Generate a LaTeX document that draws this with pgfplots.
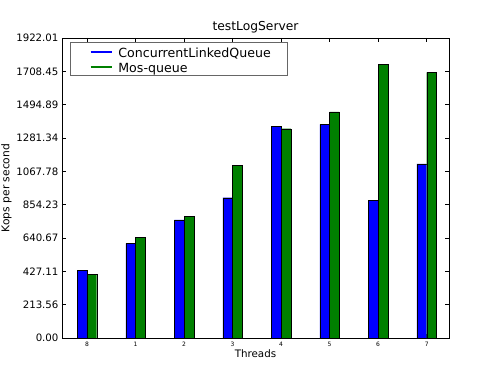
\documentclass[border=0pt]{standalone}
\usepackage{pgfplots}
\pgfplotsset{compat=1.18}
\usepackage{pgfplotstable}
\usepackage{fontspec}
\setmainfont{DejaVu Sans}
\pgfplotstableread{
x clq mos
0 434 408
1 607 645
2 756 780
3 899 1108
4 1356 1341
5 1369 1448
6 880 1752
7 1115 1701
}\datatable
\definecolor{mplblue}{RGB}{0,0,255}
\definecolor{mplgreen}{RGB}{0,128,0}
\begin{document}
\begin{tikzpicture}[x=1pt,y=1pt]
\path[use as bounding box] (0,0) rectangle (500,375);
\begin{axis}[
  at={(62pt,37pt)}, anchor=south west,
  scale only axis, width=387pt, height=300pt,
  xmin=-0.315, xmax=7.66, ymin=0, ymax=1922.01,
  axis line style={line width=0.9pt},
  tick align=inside, major tick length=4pt,
  tick style={black, line width=0.6pt},
  xtick={0.2,1.2,2.2,3.2,4.2,5.2,6.2,7.2},
  xticklabels={8,1,2,3,4,5,6,7},
  ytick={0,213.56,427.11,640.67,854.23,1067.78,1281.34,1494.89,1708.45,1922.01},
  yticklabels={0.00,213.56,427.11,640.67,854.23,1067.78,1281.34,1494.89,1708.45,1922.01},
  x tick label style={font=\fontsize{6}{7}\selectfont, yshift=-1pt},
  y tick label style={font=\fontsize{10.2}{12}\selectfont},
  title={testLogServer},
  title style={font=\fontsize{12.3}{14}\selectfont, at={(axis description cs:0.5,1)}, anchor=base, inner sep=0pt, yshift=1.3pt},
  xlabel={Threads},
  ylabel={Kops per second},
  xlabel style={font=\fontsize{10.3}{12}\selectfont, at={(axis description cs:0.5,0)}, anchor=base, inner sep=0pt, yshift=-19.7pt},
  ylabel style={font=\fontsize{10.7}{12}\selectfont, at={(axis description cs:-0.1331,0.5)}, anchor=base, inner sep=0pt, yshift=1pt},
  legend style={at={(axis description cs:0.0207,0.985)}, anchor=north west, draw=black!60, line width=0.7pt,
    font=\fontsize{12.6}{14}\selectfont, row sep=0pt, column sep=0pt, inner xsep=0pt, inner ysep=1.5pt,
    nodes={inner sep=0pt, text height=12.8pt, text depth=2.2pt},
    cells={anchor=west}},
  legend cell align=left,
]
\addlegendimage{legend image code/.code={\path (0pt,0pt); \draw[mplblue,line width=2pt] (20pt,0pt)--(41.7pt,0pt); \path (47.3pt,0pt);}}
\addlegendentry{ConcurrentLinkedQueue\rule{17pt}{0pt}}
\addlegendimage{legend image code/.code={\path (0pt,0pt); \draw[mplgreen,line width=2pt] (20pt,0pt)--(41.7pt,0pt); \path (47.3pt,0pt);}}
\addlegendentry{Mos-queue}
\addplot[ybar, bar width=0.2, fill=mplblue, draw=black, line width=0.3pt, forget plot]
  table[x expr=\thisrow{x}+0.1, y=clq] {\datatable};
\addplot[ybar, bar width=0.2, fill=mplgreen, draw=black, line width=0.3pt, forget plot]
  table[x expr=\thisrow{x}+0.3, y=mos] {\datatable};
\end{axis}
\end{tikzpicture}
\end{document}
